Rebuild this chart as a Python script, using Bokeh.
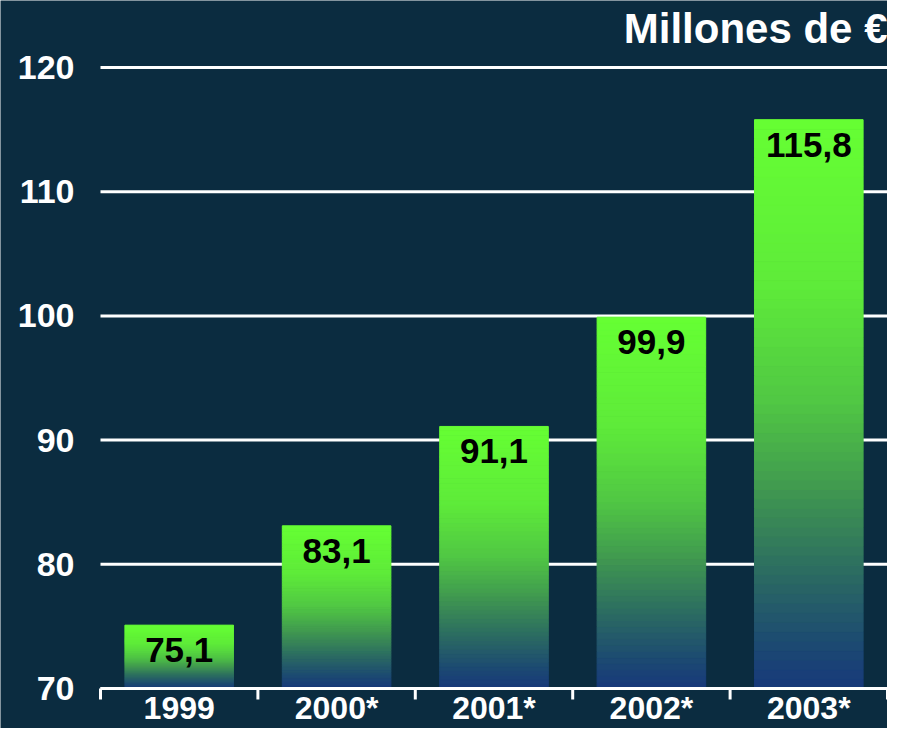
import math
from bokeh.plotting import figure
from bokeh.models import ColumnDataSource, Range1d
from bokeh.core.properties import value
from bokeh.embed import file_html
from bokeh.resources import INLINE

# ---- data ----
categories = ["1999", "2000*", "2001*", "2002*", "2003*"]
values = [75.1, 83.1, 91.1, 99.9, 115.8]
y_ticks = [70, 80, 90, 100, 110, 120]
title_text = "Millones de €"

BASE = 70
TOP = 120
BG = "#0b2c40"
FONT = "Liberation Sans"

# layout (pixels)
W, H = 887, 728
LEFT_PX = 100                      # left edge of the category area
TOP_PX, AXIS_PX = 67, 688          # pixel rows of 120 and 70
px_per_unit = (AXIS_PX - TOP_PX) / (TOP - BASE)
y_start = BASE - (H - AXIS_PX) / px_per_unit
y_end = TOP + TOP_PX / px_per_unit
ncat = len(categories)
cat_px = (W - LEFT_PX) / ncat
x_start = -LEFT_PX / cat_px

# gradient stops (fraction from top of bar, colour)
stops = [(0.0, (0x66, 0xff, 0x33)), (0.30, (0x5e, 0xea, 0x3a)),
         (0.50, (0x50, 0xc6, 0x44)), (0.65, (0x40, 0x98, 0x50)),
         (0.80, (0x2b, 0x6a, 0x62)), (0.92, (0x1c, 0x4a, 0x72)),
         (1.0, (0x17, 0x38, 0x7a))]

def grad(f):
    for (f0, c0), (f1, c1) in zip(stops[:-1], stops[1:]):
        if f0 <= f <= f1:
            t = (f - f0) / (f1 - f0) if f1 > f0 else 0
            c = [round(a + (b - a) * t) for a, b in zip(c0, c1)]
            return "#%02x%02x%02x" % tuple(c)
    return "#%02x%02x%02x" % stops[-1][1]

N = 60
xs, bots, tops, cols = [], [], [], []
for i, v in enumerate(values):
    h = v - BASE
    for k in range(N):
        xs.append(i + 0.5)
        bots.append(BASE + h * k / N)
        tops.append(BASE + h * (k + 1) / N)
        cols.append(grad(1 - (k + 0.5) / N))
slices = ColumnDataSource(dict(x=xs, bottom=bots, top=tops, color=cols))

centers = [i + 0.5 for i in range(ncat)]
labels = ColumnDataSource(dict(
    x=centers, y=values,
    text=[f"{v:.1f}".replace(".", ",") for v in values],
))
cat_src = ColumnDataSource(dict(x=centers, y=[BASE] * ncat, text=categories))
bounds = list(range(ncat + 1))
tick_src = ColumnDataSource(dict(x=bounds, y=[BASE] * len(bounds)))
grid_src = ColumnDataSource(dict(x0=[0] * len(y_ticks), x1=[ncat] * len(y_ticks),
                                 y=y_ticks, text=[str(t) for t in y_ticks]))

p = figure(width=W, height=H, output_backend="svg", toolbar_location=None,
           x_range=Range1d(x_start, ncat), y_range=Range1d(y_start, y_end),
           x_axis_location=None, y_axis_location=None,
           min_border_left=0, min_border_right=0, min_border_top=0,
           min_border_bottom=0)
p.background_fill_color = BG
p.border_fill_color = BG
p.outline_line_color = None
p.grid.visible = False

# gridlines
p.segment(x0="x0", x1="x1", y0="y", y1="y", source=grid_src,
          line_color="white", line_width=3)

# bars (vertical colour gradient built from thin slices)
p.vbar(x="x", bottom="bottom", top="top", width=0.69, source=slices,
       fill_color="color", line_color="color", line_width=1)

p.text(x="x", y="y", text="text", source=labels, text_align="center",
       text_baseline="alphabetic", y_offset=25, text_color="black",
       text_font=value(FONT), text_font_size="35px", text_font_style="bold")

# x axis: line at BASE, boundary ticks, category labels
p.segment(x0=[0], x1=[ncat], y0=[BASE], y1=[BASE], line_color="white",
          line_width=3)
p.ray(x="x", y="y", source=tick_src, length=11, length_units="screen",
      angle=-math.pi / 2, line_color="white", line_width=3)
p.text(x="x", y="y", text="text", source=cat_src, text_align="center",
       text_baseline="alphabetic", y_offset=19, text_color="white",
       text_font=value(FONT), text_font_size="32px", text_font_style="bold")

# y tick labels
p.text(x="x0", y="y", text="text", source=grid_src,
       text_align="right", text_baseline="alphabetic", x_offset=-26,
       y_offset=0, text_color="white", text_font=value(FONT),
       text_font_size="34px", text_font_style="bold")

# unit title, top right
p.text(x=[ncat], y=[y_end], text=[title_text], text_align="right",
       text_baseline="alphabetic", y_offset=28, text_color="white",
       text_font=value(FONT), text_font_size="42px", text_font_style="bold")

open("out.html", "w").write(file_html(p, INLINE))
